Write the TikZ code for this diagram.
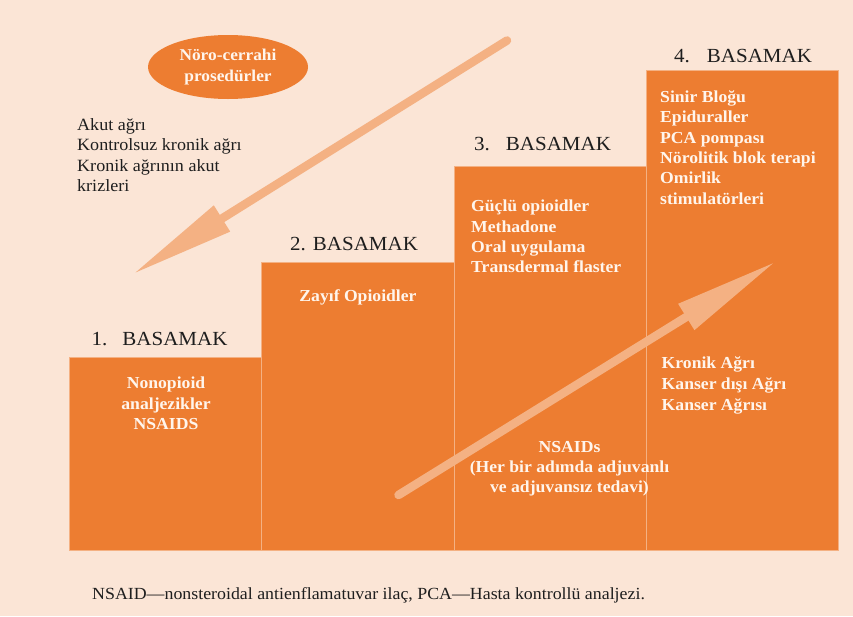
\documentclass[tikz,border=0pt]{standalone}
\usepackage{fontspec}
\setmainfont{Liberation Serif}[FakeStretch=1.05]
\usetikzlibrary{arrows.meta,shapes.geometric}
\definecolor{bgpeach}{HTML}{FBE5D6}
\definecolor{steporange}{HTML}{ED7D31}
\definecolor{arrowpeach}{HTML}{F4B183}
\definecolor{cream}{HTML}{FFF5EC}
\definecolor{inkdark}{HTML}{1E1E1E}
\tikzset{
  stepbox/.style={fill=steporange, draw=arrowpeach, line width=0.6pt},
  steplabel/.style={anchor=base west, inner sep=0pt, font=\fontsize{20}{24}\selectfont, text=inkdark},
  wtext/.style={anchor=base west, inner sep=0pt, font=\bfseries\fontsize{16.8}{20}\selectfont, text=cream},
  wctext/.style={wtext, anchor=base},
  btext/.style={anchor=base west, inner sep=0pt, font=\fontsize{17.2}{20}\selectfont, text=inkdark},
  bigarrow/.style={draw=arrowpeach, line width=8.5pt, line cap=round,
    -{Triangle[length=102pt,width=31pt,line width=0pt]}}
}
\begin{document}
\begin{tikzpicture}[x=1pt,y=-1pt]
\fill[bgpeach] (0,0) rectangle (853,616);
\useasboundingbox (0,0) rectangle (853,616);

% steps
\path[stepbox] (69.5,357) rectangle (261.75,550.5);
\path[stepbox] (261.75,262) rectangle (454,550.5);
\path[stepbox] (454,166) rectangle (646.25,550.5);
\path[stepbox] (646.25,70.5) rectangle (838.5,550.5);

% step labels
\node[steplabel] (l1) at (91.5,345) {1.\hspace{15pt}BASAMAK};
\node[steplabel] (l2) at (290,250) {2. BASAMAK};
\node[steplabel] (l3) at (474,150) {3.\hspace{16pt}BASAMAK};
\node[steplabel] (l4) at (674,62.7) {4.\hspace{17pt}BASAMAK};

% ellipse
\node[ellipse, fill=steporange, minimum width=160pt, minimum height=64pt, inner sep=0pt,
      align=center, text=cream, font=\bfseries\fontsize{16.5}{21}\selectfont] (neuro) at (228,67)
      {Nöro-cerrahi\\prosedürler};

% left list
\node[btext] (a1) at (77,130.7) {Akut ağrı};
\node[btext] (a2) at (77,150.5) {Kontrolsuz kronik ağrı};
\node[btext] (a3) at (77,171.2) {Kronik ağrının akut};
\node[btext] (a4) at (77,191.5) {krizleri};

% down arrow
\coordinate (dtail) at (507,40.5);
\coordinate (dtip) at (135.5,272.5);
\draw[bigarrow] (dtail) -- (dtip);

% box 1
\node[wctext] (b1a) at (166,388.3) {Nonopioid};
\node[wctext] (b1b) at (166,409) {analjezikler};
\node[wctext] (b1c) at (166,429.5) {NSAIDS};

% box 2
\node[wctext] (b2a) at (358,301.7) {Zayıf Opioidler};

% box 3
\node[wtext] (b3a) at (471,211.7) {Güçlü opioidler};
\node[wtext] (b3b) at (471,232) {Methadone};
\node[wtext] (b3c) at (471,252) {Oral uygulama};
\node[wtext] (b3d) at (471,272.3) {Transdermal flaster};

% box 4 upper
\node[wtext] (b4a) at (660,102.3) {Sinir Bloğu};
\node[wtext] (b4b) at (660,122.7) {Epiduraller};
\node[wtext] (b4c) at (660,143) {PCA pompası};
\node[wtext] (b4d) at (660,163.3) {Nörolitik blok terapi};
\node[wtext] (b4e) at (660,183.7) {Omirlik};
\node[wtext] (b4f) at (660,204.2) {stimulatörleri};

% box 4 lower
\node[wtext] (b4g) at (661.5,368.3) {Kronik Ağrı};
\node[wtext] (b4h) at (661.5,389.2) {Kanser dışı Ağrı};
\node[wtext] (b4i) at (661.5,410) {Kanser Ağrısı};

% up arrow
\coordinate (utail) at (398.5,495);
\coordinate (utip) at (773,263.3);
\draw[bigarrow] (utail) -- (utip);

% NSAIDs
\node[wctext] (n1) at (569.5,452.3) {NSAIDs};
\node[wctext] (n2) at (569.5,472.5) {(Her bir adımda adjuvanlı};
\node[wctext] (n3) at (569.5,492.5) {ve adjuvansız tedavi)};

% caption
\node[btext, font=\fontsize{17}{20}\selectfont] (cap) at (92,599)
  {NSAID—nonsteroidal antienflamatuvar ilaç, PCA—Hasta kontrollü analjezi.};
\end{tikzpicture}
\end{document}
